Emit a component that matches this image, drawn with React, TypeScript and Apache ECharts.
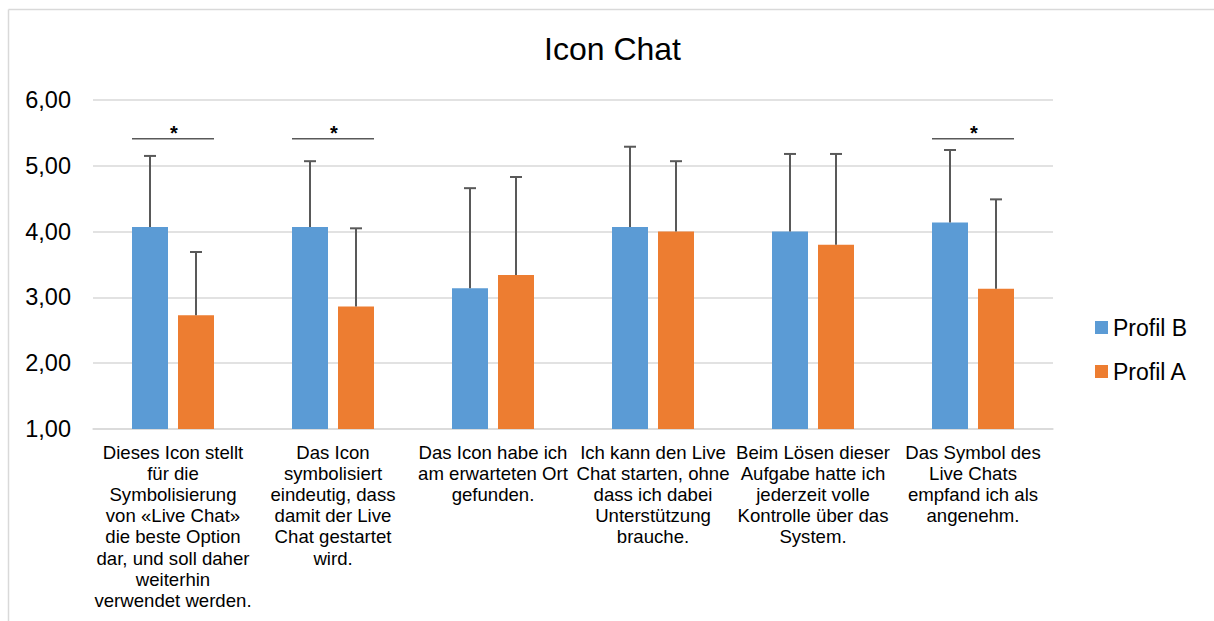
import React, { useEffect, useRef } from "react";
import * as echarts from "echarts";

const categories = [
  "Dieses Icon stellt\nfür die\nSymbolisierung\nvon «Live Chat»\ndie beste Option\ndar, und soll daher\nweiterhin\nverwendet werden.",
  "Das Icon\nsymbolisiert\neindeutig, dass\ndamit der Live\nChat gestartet\nwird.",
  "Das Icon habe ich\nam erwarteten Ort\ngefunden.",
  "Ich kann den Live\nChat starten, ohne\ndass ich dabei\nUnterstützung\nbrauche.",
  "Beim Lösen dieser\nAufgabe hatte ich\njederzeit volle\nKontrolle über das\nSystem.",
  "Das Symbol des\nLive Chats\nempfand ich als\nangenehm.",
];
const profilB = [4.07, 4.07, 3.14, 4.07, 4.0, 4.14];
const profilA = [2.73, 2.86, 3.34, 4.0, 3.8, 3.13];
const sdB = [1.08, 1.0, 1.52, 1.22, 1.18, 1.1];
const sdA = [0.96, 1.19, 1.49, 1.07, 1.38, 1.36];
const significantIdx = [0, 1, 5];
const sigLevel = 5.41;
const yMin = 1;
const yMax = 6;
const yInterval = 1;

const FONT = "'Liberation Sans', Arial, sans-serif";
const BAR_W = 36;
const BAR_GAP = 10;
const BLUE = "#5B9BD5";
const ORANGE = "#ED7D31";
const ERR = "#595959";

function errorRenderer(offset: number) {
  return (params: any, api: any) => {
    const i = api.value(0);
    const base = api.coord([i, api.value(1)]);
    const top = api.coord([i, api.value(2)]);
    const x = base[0] + offset;
    return {
      type: "group",
      children: [
        {
          type: "line",
          shape: { x1: x, y1: base[1], x2: x, y2: top[1] },
          style: { stroke: ERR, lineWidth: 2 },
        },
        {
          type: "line",
          shape: { x1: x - 6, y1: top[1], x2: x + 6, y2: top[1] },
          style: { stroke: ERR, lineWidth: 2 },
        },
      ],
    };
  };
}

export default function App() {
  const ref = useRef<HTMLDivElement>(null);
  useEffect(() => {
    if (!ref.current) return;
    const chart = echarts.init(ref.current, null, { renderer: "svg" });
    const off = (BAR_W + BAR_GAP) / 2;
    chart.setOption({
      animation: false,
      textStyle: { fontFamily: FONT },
      graphic: [
        {
          type: "line",
          shape: { x1: 8.5, y1: 9.5, x2: 1214, y2: 9.5 },
          style: { stroke: "#d9d9d9", lineWidth: 1.5 },
        },
        {
          type: "line",
          shape: { x1: 8.5, y1: 9.5, x2: 8.5, y2: 621 },
          style: { stroke: "#d9d9d9", lineWidth: 1.5 },
        },
        {
          type: "text",
          x: 612.5,
          y: 48.5,
          style: {
            text: "Icon Chat",
            font: `32px ${FONT}`,
            fill: "#000",
            textAlign: "center",
            textVerticalAlign: "middle",
          },
        },
      ],
      legend: {
        data: ["Profil B", "Profil A"],
        orient: "vertical",
        left: 1095,
        top: 316,
        padding: 0,
        itemWidth: 13,
        itemHeight: 13,
        itemGap: 21,
        icon: "rect",
        textStyle: { fontSize: 23, color: "#000", fontFamily: FONT },
      },
      grid: { left: 93, right: 161, top: 100, bottom: 192, containLabel: false },
      xAxis: {
        type: "category",
        data: categories,
        axisTick: { show: false },
        axisLine: { lineStyle: { color: "#d9d9d9", width: 1.5 } },
        axisLabel: {
          interval: 0,
          fontSize: 18.6,
          lineHeight: 21.1,
          color: "#000",
          margin: 13,
          fontFamily: FONT,
        },
      },
      yAxis: {
        type: "value",
        min: yMin,
        max: yMax,
        interval: yInterval,
        axisLine: { show: false },
        axisTick: { show: false },
        splitLine: { lineStyle: { color: "#d9d9d9", width: 1.5 } },
        axisLabel: {
          fontSize: 23.5,
          color: "#000",
          margin: 22,
          fontFamily: FONT,
          formatter: (v: number) => v.toFixed(2).replace(".", ","),
        },
      },
      series: [
        {
          name: "Profil B",
          type: "bar",
          data: profilB,
          barWidth: BAR_W,
          barGap: `${(BAR_GAP / BAR_W) * 100}%`,
          itemStyle: { color: BLUE },
        },
        {
          name: "Profil A",
          type: "bar",
          data: profilA,
          barWidth: BAR_W,
          barGap: `${(BAR_GAP / BAR_W) * 100}%`,
          itemStyle: { color: ORANGE },
        },
        {
          type: "custom",
          data: profilB.map((v, i) => [i, v, v + sdB[i]]),
          encode: { x: 0, y: [1, 2] },
          renderItem: errorRenderer(-off),
          z: 5,
        },
        {
          type: "custom",
          data: profilA.map((v, i) => [i, v, v + sdA[i]]),
          encode: { x: 0, y: [1, 2] },
          renderItem: errorRenderer(off),
          z: 5,
        },
        {
          type: "custom",
          data: significantIdx.map((i) => [i, sigLevel]),
          encode: { x: 0, y: 1 },
          z: 5,
          renderItem: (params: any, api: any) => {
            const c = api.coord([api.value(0), api.value(1)]);
            const half = BAR_W + BAR_GAP / 2;
            return {
              type: "group",
              children: [
                {
                  type: "line",
                  shape: { x1: c[0] - half, y1: c[1], x2: c[0] + half, y2: c[1] },
                  style: { stroke: ERR, lineWidth: 1.5 },
                },
                {
                  type: "text",
                  x: c[0] + 1,
                  y: c[1] - 6,
                  style: {
                    text: "*",
                    font: `bold 20px ${FONT}`,
                    fill: "#000",
                    textAlign: "center",
                    textVerticalAlign: "middle",
                  },
                },
              ],
            };
          },
        },
      ],
    });
    return () => chart.dispose();
  }, []);
  return (
    <div
      ref={ref}
      style={{ position: "absolute", left: 0, top: 0, width: 1214, height: 621, background: "#fff" }}
    />
  );
}
